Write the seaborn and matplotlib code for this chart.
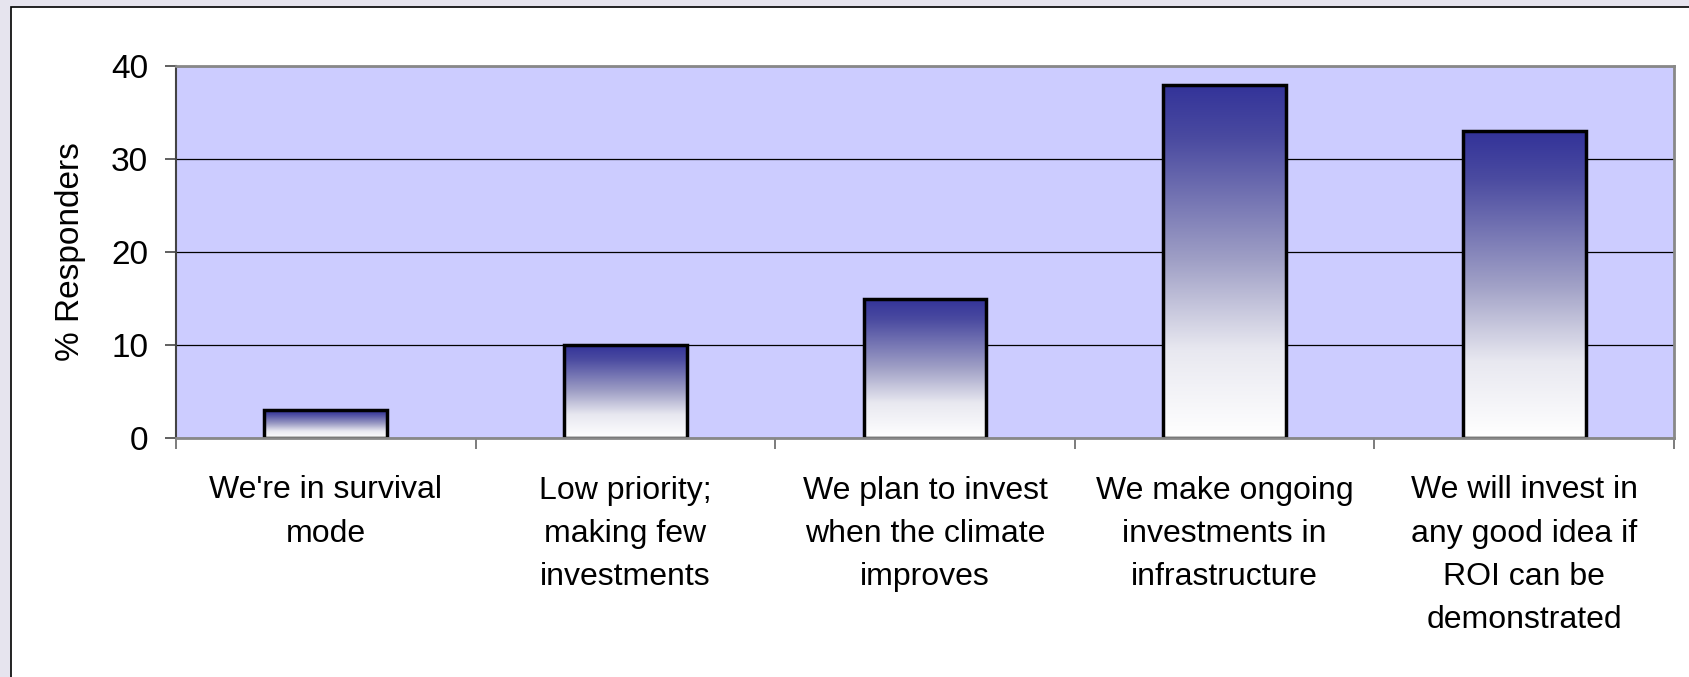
import numpy as np
import pandas as pd
import matplotlib
matplotlib.use("Agg")
import matplotlib.pyplot as plt
import seaborn as sns
from matplotlib.patches import Rectangle
from matplotlib.colors import LinearSegmentedColormap

categories = ["We're in survival\nmode",
              "Low priority;\nmaking few\ninvestments",
              "We plan to invest\nwhen the climate\nimproves",
              "We make ongoing\ninvestments in\ninfrastructure",
              "We will invest in\nany good idea if\nROI can be\ndemonstrated"]
values = [3, 10, 15, 38, 33]
yticks = [0, 10, 20, 30, 40]
ylabel = "% Responders"

sns.set_theme(style="white")
plt.rcParams['font.family'] = ['Liberation Sans', 'DejaVu Sans']
plt.rcParams['text.color'] = 'black'
plt.rcParams['axes.labelcolor'] = 'black'
plt.rcParams['xtick.color'] = 'black'
plt.rcParams['ytick.color'] = 'black'

W, H = 1690, 677
fig = plt.figure(figsize=(W / 100, H / 100), dpi=100, facecolor='#E6E4EE')
panel = Rectangle((11 / W, -0.05), 1.0, 1 - 7 / H + 0.05, transform=fig.transFigure,
                  facecolor='white', edgecolor='black', lw=1.2, zorder=-10)
fig.patches.append(panel)

ax = fig.add_axes([176 / W, 1 - 438 / H, (1674 - 176) / W, (438 - 66) / H])
ax.set_zorder(5)
ax.set_facecolor('#CCCCFF')

df = pd.DataFrame({'category': categories, 'value': values})
sns.barplot(data=df, x='category', y='value', ax=ax, width=0.41, color='white',
            edgecolor='black', linewidth=2.5, zorder=3)

cmap = LinearSegmentedColormap.from_list(
    'grad', [(0.0, '#FFFFFF'), (0.25, '#E8E8F0'), (0.5, '#A0A0C6'),
             (0.85, '#4A4AA0'), (1.0, '#333399')])
grad = np.linspace(0, 1, 256).reshape(-1, 1)
for p in ax.patches:
    x0, y0, w, h = p.get_x(), p.get_y(), p.get_width(), p.get_height()
    ax.imshow(grad, extent=[x0, x0 + w, y0, y0 + h], origin='lower', aspect='auto',
              cmap=cmap, zorder=2.5, interpolation='bilinear')
    p.set_facecolor('none')

ax.set_xlim(-0.5, len(categories) - 0.5)
ax.set_ylim(0, 40)
ax.set_aspect('auto')

ax.set_axisbelow(True)
ax.yaxis.grid(True, color='black', lw=0.9)
ax.xaxis.grid(False)

for side in ['top', 'right', 'bottom']:
    ax.spines[side].set_color('#888888')
    ax.spines[side].set_linewidth(2)
ax.spines['left'].set_color('#444444')
ax.spines['left'].set_linewidth(1.5)
for s in ax.spines.values():
    s.set_zorder(4)

ax.set_yticks(yticks)
ax.set_yticklabels([str(t) for t in yticks])
ax.tick_params(axis='y', which='major', direction='out', length=8, width=1.2,
               color='#444444', labelcolor='black', labelsize=24, pad=12, left=True)
ax.set_xticks(range(len(categories)))
ax.set_xticklabels(categories)
ax.tick_params(axis='x', which='major', length=0, labelsize=23, labelcolor='black', pad=27)
ax.set_xticks(np.arange(-0.5, len(categories), 1.0), minor=True)
ax.tick_params(axis='x', which='minor', direction='out', length=8, width=1.2,
               color='#666666', bottom=True)
for t in ax.get_xticklabels():
    t.set_linespacing(1.57)

ax.set_xlabel('')
ax.set_ylabel(ylabel, fontsize=24, color='black')
ax.yaxis.set_label_coords(-0.06, 0.5)

fig.savefig('out.png', dpi=100, facecolor=fig.get_facecolor())
